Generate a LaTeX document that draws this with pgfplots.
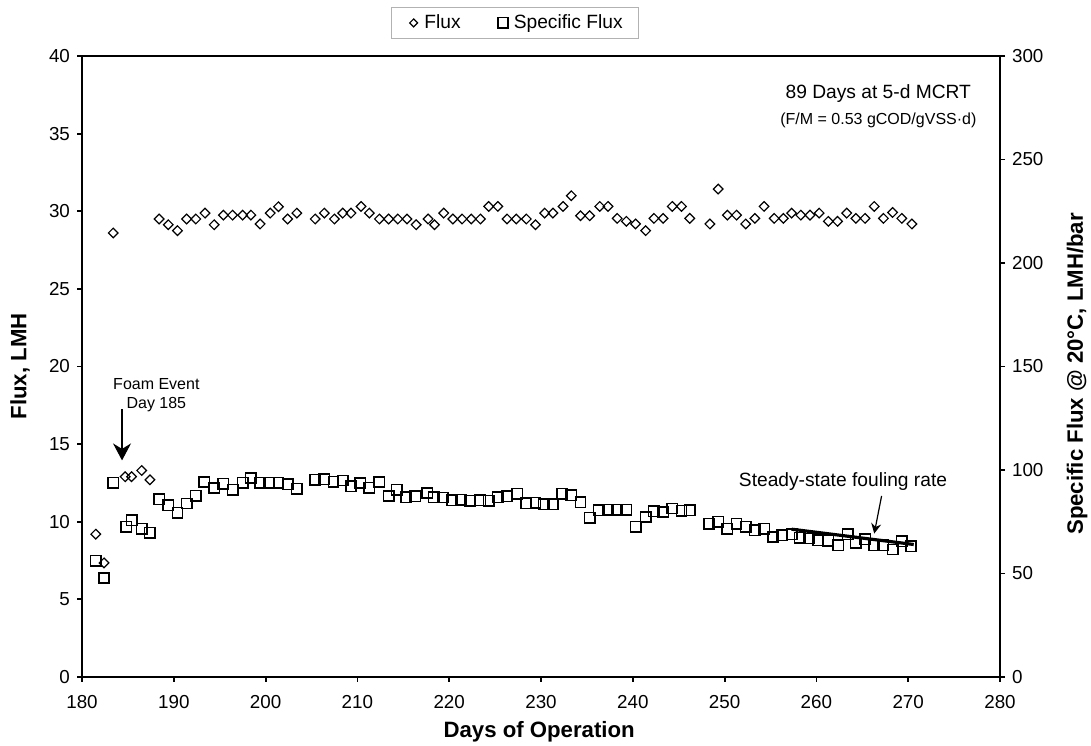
\documentclass[border=0pt]{standalone}
\usepackage{fontspec}
\setmainfont{Liberation Sans}
\usepackage{pgfplots}
\pgfplotsset{compat=1.18}
\usetikzlibrary{arrows.meta}

\pgfplotsset{
  base/.style={
    width=459pt, height=310.5pt, scale only axis,
    xmin=180, xmax=280,
    axis line style={line width=1pt},
    tick style={line width=0.9pt, black},
    major tick length=2.5pt, tick align=outside,
    ticklabel style={font=\fontsize{9.4}{11}\selectfont},
    /pgf/number format/assume math mode=true,
    label style={font=\fontsize{11.1}{13}\selectfont\bfseries},
  },
}

\begin{document}
\begin{tikzpicture}
  \begin{axis}[base,
      ymin=0, ymax=40, ytick={0,5,...,40},
      xtick={180,190,...,280}, xtick pos=lower, ytick pos=left,
      xticklabel style={yshift=-3pt},
      xlabel={Days of Operation}, ylabel={Flux, LMH},
      xlabel style={at={(axis description cs:0.498,-0.0886)}, anchor=center},
      ylabel style={at={(axis description cs:-0.0675,0.5)}, anchor=center}]
    % flux, LMH
    \addplot[only marks, mark=square, mark size=1.7pt,
        mark options={rotate=45, line width=0.6pt}]
      coordinates {
        (181.5,9.2) (182.4,7.35) (183.4,28.6) (184.7,12.9) (185.4,12.9)
        (186.5,13.3) (187.4,12.7) (188.4,29.5) (189.4,29.13) (190.4,28.75)
        (191.4,29.5) (192.4,29.5) (193.4,29.88) (194.4,29.13) (195.4,29.75)
        (196.4,29.75) (197.5,29.75) (198.4,29.75) (199.4,29.18) (200.5,29.88)
        (201.4,30.29) (202.4,29.5) (203.4,29.88) (205.4,29.5) (206.4,29.88)
        (207.5,29.5) (208.4,29.88) (209.3,29.88) (210.4,30.31) (211.3,29.88)
        (212.4,29.5) (213.4,29.5) (214.4,29.5) (215.4,29.5) (216.4,29.13)
        (217.7,29.5) (218.4,29.13) (219.4,29.88) (220.4,29.5) (221.4,29.5)
        (222.4,29.5) (223.4,29.5) (224.3,30.31) (225.3,30.31) (226.3,29.5)
        (227.3,29.5) (228.4,29.5) (229.4,29.13) (230.4,29.88) (231.3,29.88)
        (232.4,30.31) (233.3,31.0) (234.3,29.71) (235.3,29.71) (236.4,30.31)
        (237.3,30.31) (238.3,29.54) (239.3,29.35) (240.3,29.18) (241.4,28.75)
        (242.3,29.54) (243.3,29.54) (244.3,30.31) (245.3,30.31) (246.2,29.54)
        (248.4,29.18) (249.3,31.43) (250.3,29.75) (251.3,29.75) (252.3,29.18)
        (253.3,29.54) (254.3,30.31) (255.4,29.54) (256.4,29.54) (257.3,29.88)
        (258.3,29.75) (259.3,29.75) (260.3,29.88) (261.3,29.35) (262.3,29.35)
        (263.3,29.88) (264.3,29.54) (265.3,29.54) (266.3,30.31) (267.3,29.54)
        (268.3,29.92) (269.3,29.54) (270.4,29.18)
      };
    \coordinate (ll) at (rel axis cs:0,0);
    \coordinate (ur) at (rel axis cs:1,1);
    \node[anchor=east, font=\fontsize{9.6}{11}\selectfont]
      at (axis description cs:0.976,0.940) {89 Days at 5-d MCRT};
    \node[anchor=east, font=\fontsize{8}{10}\selectfont]
      at (axis description cs:0.982,0.897) {(F/M = 0.53 gCOD/gVSS\textperiodcentered d)};
    \node[align=center, font=\fontsize{8}{9.2}\selectfont]
      at (axis cs:188.1,18.15) {Foam Event\\Day 185};
    \draw[line width=0.6pt, -{Stealth[length=8.5pt, width=9pt]}]
      (axis cs:184.36,17.23) -- (axis cs:184.36,13.95);
    \node[font=\fontsize{9.6}{11}\selectfont]
      at (axis cs:262.9,12.56) {Steady-state fouling rate};
    \draw[line width=0.6pt, -{Stealth[length=5pt, width=5pt]}]
      (axis cs:267.1,11.66) -- (axis cs:266.3,9.24);
  \end{axis}
  \begin{axis}[base,
      ymin=0, ymax=300, ytick={0,50,...,300},
      axis y line*=right, axis x line=none,
      ylabel={Specific Flux @ 20°C, LMH/bar},
      ylabel style={at={(axis description cs:1.0839,0.488)}, anchor=center},
      legend columns=2,
      legend style={at={(axis description cs:0.4717,1.0789)}, anchor=north,
        draw=gray!60, line width=0.5pt, font=\fontsize{9.6}{11}\selectfont,
        inner ysep=1.5pt, inner xsep=6pt,
        /tikz/every even column/.append style={column sep=14pt}},
      legend image code/.code={
        \path[draw=none] (0cm,0cm) -- (0.3cm,0cm);
        \draw[#1] plot coordinates {(0.18cm,0cm)};}]
    \addlegendimage{only marks, mark=square, mark size=1.4pt,
        mark options={rotate=45, line width=0.6pt}}
    \addlegendentry{Flux}
    % specific flux, LMH/bar
    \addplot[only marks, mark=square, mark size=2.6pt,
        mark options={line width=0.75pt}]
      coordinates {
        (181.5,56.25) (182.4,47.8) (183.4,93.75) (184.8,72.5) (185.4,75.75)
        (186.5,71.7) (187.4,69.75) (188.4,85.9) (189.4,82.95) (190.4,79.3)
        (191.4,83.8) (192.4,87.6) (193.3,94.2) (194.4,91.3) (195.4,93.4)
        (196.4,90.5) (197.5,93.75) (198.4,96.15) (199.4,93.9) (200.4,93.9)
        (201.4,93.9) (202.4,93.1) (203.4,91.0) (205.4,95.3) (206.4,95.6)
        (207.4,94.35) (208.4,94.9) (209.3,92.1) (210.3,93.7) (211.3,91.5)
        (212.4,94.2) (213.4,87.45) (214.3,90.5) (215.3,86.9) (216.3,87.3)
        (217.6,88.9) (218.3,86.9) (219.3,86.7) (220.3,85.35) (221.3,85.7)
        (222.3,85.05) (223.4,85.35) (224.3,85.05) (225.3,86.9) (226.3,87.3)
        (227.4,88.6) (228.4,83.9) (229.4,84.1) (230.3,83.4) (231.3,83.4)
        (232.3,88.6) (233.3,87.75) (234.3,84.5) (235.3,77.0) (236.3,80.55)
        (237.3,80.85) (238.3,80.85) (239.3,80.85) (240.3,72.5) (241.4,77.3)
        (242.3,80.1) (243.3,79.7) (244.3,81.4) (245.3,80.25) (246.2,80.55)
        (248.3,74.1) (249.3,74.9) (250.3,71.7) (251.3,74.1) (252.3,72.5)
        (253.3,70.9) (254.3,71.7) (255.3,67.65) (256.3,68.5) (257.3,69.0)
        (258.2,67.35) (259.2,66.9) (260.2,66.1) (261.3,65.8) (262.4,63.7)
        (263.4,69.0) (264.3,64.8) (265.3,66.45) (266.3,63.7) (267.3,63.7)
        (268.3,61.6) (269.3,65.6) (270.3,63.15)
      };
    \addlegendentry{Specific Flux}
    % steady-state fouling trend
    \addplot[line width=1.6pt, no marks, forget plot]
      coordinates {(257.3,71.4) (270.6,64.0)};
  \end{axis}
  \pgfresetboundingbox
  \path[use as bounding box] ([xshift=-41pt,yshift=-34.5pt]ll)
    rectangle ([xshift=45.5pt,yshift=28pt]ur);
\end{tikzpicture}
\end{document}
